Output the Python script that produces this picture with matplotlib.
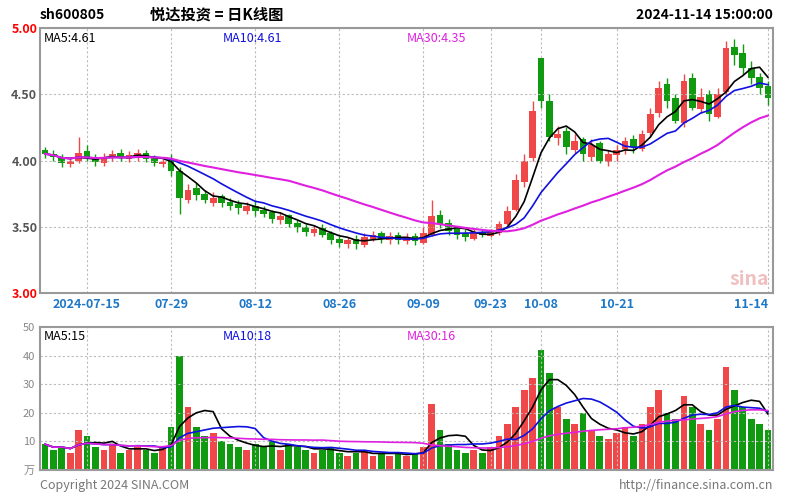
import numpy as np
import pandas as pd
import matplotlib
matplotlib.use("Agg")
import matplotlib.pyplot as plt

plt.rcParams['font.family'] = ['Noto Sans CJK SC', 'DejaVu Sans']

dates = ["07-08","07-09","07-10","07-11","07-12","07-15","07-16","07-17","07-18","07-19",
         "07-22","07-23","07-24","07-25","07-26","07-29","07-30","07-31","08-01","08-02",
         "08-05","08-06","08-07","08-08","08-09","08-12","08-13","08-14","08-15","08-16",
         "08-19","08-20","08-21","08-22","08-23","08-26","08-27","08-28","08-29","08-30",
         "09-02","09-03","09-04","09-05","09-06","09-09","09-10","09-11","09-12","09-13",
         "09-18","09-19","09-20","09-23","09-24","09-25","09-26","09-27","09-30","10-08",
         "10-09","10-10","10-11","10-14","10-15","10-16","10-17","10-18","10-21","10-22",
         "10-23","10-24","10-25","10-28","10-29","10-30","10-31","11-01","11-04","11-05",
         "11-06","11-07","11-08","11-11","11-12","11-13","11-14"]
tick_labels = {5:"2024-07-15",15:"07-29",25:"08-12",35:"08-26",45:"09-09",53:"09-23",59:"10-08",68:"10-21",86:"11-14"}

close = [4.05,4.03,3.98,4.00,4.06,4.02,3.99,4.03,4.05,4.02,
         4.04,4.06,4.01,3.98,3.99,3.92,3.72,3.78,3.74,3.70,
         3.72,3.68,3.66,3.64,3.66,3.62,3.60,3.56,3.58,3.52,
         3.50,3.46,3.48,3.44,3.40,3.38,3.40,3.37,3.42,3.44,
         3.41,3.43,3.40,3.42,3.39,3.45,3.58,3.52,3.47,3.44,
         3.42,3.45,3.44,3.46,3.52,3.62,3.85,4.00,4.37,4.45,
         4.18,4.20,4.10,4.15,4.05,4.12,4.00,4.05,4.08,4.15,
         4.10,4.20,4.35,4.55,4.45,4.30,4.60,4.40,4.48,4.35,
         4.50,4.85,4.80,4.70,4.62,4.55,4.47]
open_ = [4.08,4.05,4.03,3.97,4.00,4.07,4.03,3.98,4.02,4.06,
         4.01,4.03,4.06,4.02,3.97,4.00,3.92,3.70,3.79,3.75,
         3.68,3.73,3.69,3.67,3.62,3.66,3.63,3.61,3.55,3.59,
         3.53,3.50,3.45,3.49,3.45,3.41,3.37,3.41,3.36,3.41,
         3.45,3.40,3.44,3.39,3.43,3.38,3.44,3.59,3.53,3.48,
         3.45,3.41,3.46,3.43,3.45,3.52,3.63,3.84,4.02,4.77,
         4.45,4.17,4.22,4.08,4.16,4.03,4.13,3.99,4.04,4.09,
         4.16,4.09,4.21,4.36,4.58,4.47,4.28,4.62,4.39,4.50,
         4.33,4.52,4.86,4.81,4.70,4.63,4.56]
high = [4.10,4.08,4.05,4.03,4.18,4.12,4.05,4.06,4.08,4.09,
        4.07,4.09,4.08,4.04,4.01,4.05,3.95,3.82,3.83,3.78,
        3.76,3.75,3.72,3.70,3.69,3.70,3.66,3.63,3.61,3.60,
        3.55,3.52,3.51,3.52,3.47,3.43,3.42,3.44,3.45,3.47,
        3.47,3.46,3.46,3.45,3.45,3.50,3.70,3.63,3.56,3.50,
        3.48,3.48,3.48,3.48,3.54,3.66,3.90,4.05,4.45,4.77,
        4.50,4.26,4.25,4.20,4.18,4.16,4.15,4.08,4.12,4.18,
        4.19,4.23,4.40,4.60,4.62,4.50,4.65,4.66,4.55,4.53,
        4.55,4.90,4.92,4.88,4.75,4.66,4.60]
low = [4.02,4.00,3.95,3.95,3.98,4.00,3.96,3.96,4.00,4.00,
       3.99,4.00,3.99,3.96,3.95,3.88,3.60,3.68,3.70,3.68,
       3.66,3.65,3.63,3.60,3.60,3.58,3.57,3.53,3.52,3.50,
       3.46,3.43,3.43,3.42,3.37,3.35,3.34,3.33,3.35,3.39,
       3.38,3.37,3.37,3.37,3.36,3.37,3.43,3.49,3.44,3.41,
       3.39,3.40,3.42,3.42,3.44,3.51,3.62,3.80,4.00,4.40,
       4.15,4.12,4.05,4.06,4.00,4.00,3.98,3.96,4.00,4.05,
       4.06,4.07,4.18,4.33,4.40,4.28,4.25,4.38,4.36,4.30,
       4.32,4.50,4.72,4.65,4.58,4.50,4.42]
volume = [9,7,8,6,14,12,8,7,9,6,
          7,8,7,6,8,15,40,22,15,12,
          13,10,9,8,7,9,8,10,7,9,
          8,7,6,7,8,6,5,6,7,5,
          6,5,6,5,6,8,23,14,9,7,
          6,7,6,8,12,16,22,28,32,42,
          34,22,18,16,20,14,12,11,13,15,
          12,16,22,28,20,18,26,22,16,14,
          18,36,28,22,18,16,14]

df = pd.DataFrame({"o":open_,"c":close,"h":high,"l":low,"v":volume})
ma5 = df.c.rolling(5, min_periods=1).mean()
ma10 = df.c.rolling(10, min_periods=1).mean()
ma30 = df.c.rolling(30, min_periods=1).mean()
vma5 = df.v.rolling(5, min_periods=1).mean()
vma10 = df.v.rolling(10, min_periods=1).mean()
vma30 = df.v.rolling(30, min_periods=1).mean()

RED = "#f04848"; GREEN = "#109a10"
fig = plt.figure(figsize=(8,5), dpi=100)
ax = fig.add_axes([40/800, 1-293/500, 733/800, 265/500])
axv = fig.add_axes([40/800, 1-470/500, 733/800, 143/500])
x = np.arange(len(close))
up = df.c >= df.o
cols = [RED if u else GREEN for u in up]

for a in (ax, axv):
    a.set_xlim(-0.6, len(close)-0.4)
    for s in a.spines.values():
        s.set_color("#999999"); s.set_linewidth(1.5)
    a.grid(True, color="#bbbbbb", linestyle=(0,(2,2)), linewidth=0.8)
    a.set_xticks(list(tick_labels.keys()))
    a.tick_params(length=0)

ax.vlines(x, df.l, df.h, colors=cols, linewidth=1)
ax.bar(x, (df.c-df.o).abs().clip(lower=0.005), bottom=np.minimum(df.o, df.c), color=cols, width=0.8)
ax.plot(x, ma5, color="black", lw=1.2)
ax.plot(x, ma10, color="#1010e0", lw=1.2)
ax.plot(x, ma30, color="#e020e0", lw=1.5)
ax.set_ylim(3.0, 5.0)
ax.set_yticks([3.0,3.5,4.0,4.5,5.0])
ax.set_yticklabels(["3.00","3.50","4.00","4.50","5.00"], fontsize=9, fontweight="bold")
for lbl, c in zip(ax.get_yticklabels(), ["red","#555555","#555555","#555555","red"]):
    lbl.set_color(c)
ax.set_xticklabels(list(tick_labels.values()), fontsize=9, color="#1e78c8", fontweight="bold")
xl = ax.get_xticklabels()
xl[0].set_ha("center")
xl[-1].set_ha("right")
ax.tick_params(axis="y", pad=2)

axv.bar(x, df.v, color=cols, width=0.8)
axv.plot(x, vma5, color="black", lw=1.2)
axv.plot(x, vma10, color="#1010e0", lw=1.2)
axv.plot(x, vma30, color="#e020e0", lw=1.2)
axv.set_ylim(0, 50)
axv.set_yticks([0,10,20,30,40,50])
axv.set_yticklabels(["万","10","20","30","40","50"], fontsize=8, color="#888888")
axv.set_xticklabels([])

fig.text(40/800, 1-15/500, "sh600805", fontsize=10, fontweight="bold", va="center")
fig.text(150/800, 1-15/500, "悦达投资 = 日K线图", fontsize=11, fontweight="bold", va="center")
fig.text(773/800, 1-15/500, "2024-11-14 15:00:00", fontsize=10, fontweight="bold", va="center", ha="right")
ax.text(0.005, 0.985, "MA5:4.61", transform=ax.transAxes, fontsize=9, va="top", color="black")
ax.text(0.25, 0.985, "MA10:4.61", transform=ax.transAxes, fontsize=9, va="top", color="#1010e0")
ax.text(0.50, 0.985, "MA30:4.35", transform=ax.transAxes, fontsize=9, va="top", color="#e020e0")
axv.text(0.005, 0.98, "MA5:15", transform=axv.transAxes, fontsize=9, va="top", color="black")
axv.text(0.25, 0.98, "MA10:18", transform=axv.transAxes, fontsize=9, va="top", color="#1010e0")
axv.text(0.50, 0.98, "MA30:16", transform=axv.transAxes, fontsize=9, va="top", color="#e020e0")
fig.text(40/800, 1-485/500, "Copyright 2024 SINA.COM", fontsize=9, color="#777777", va="center")
fig.text(773/800, 1-485/500, "http://finance.sina.com.cn", fontsize=9, color="#777777", va="center", ha="right")
ax.text(0.995, 0.03, "sina", transform=ax.transAxes, fontsize=14, color="#f0c0c0", ha="right", fontweight="bold", style="italic")

fig.savefig("out.png", dpi=100)
